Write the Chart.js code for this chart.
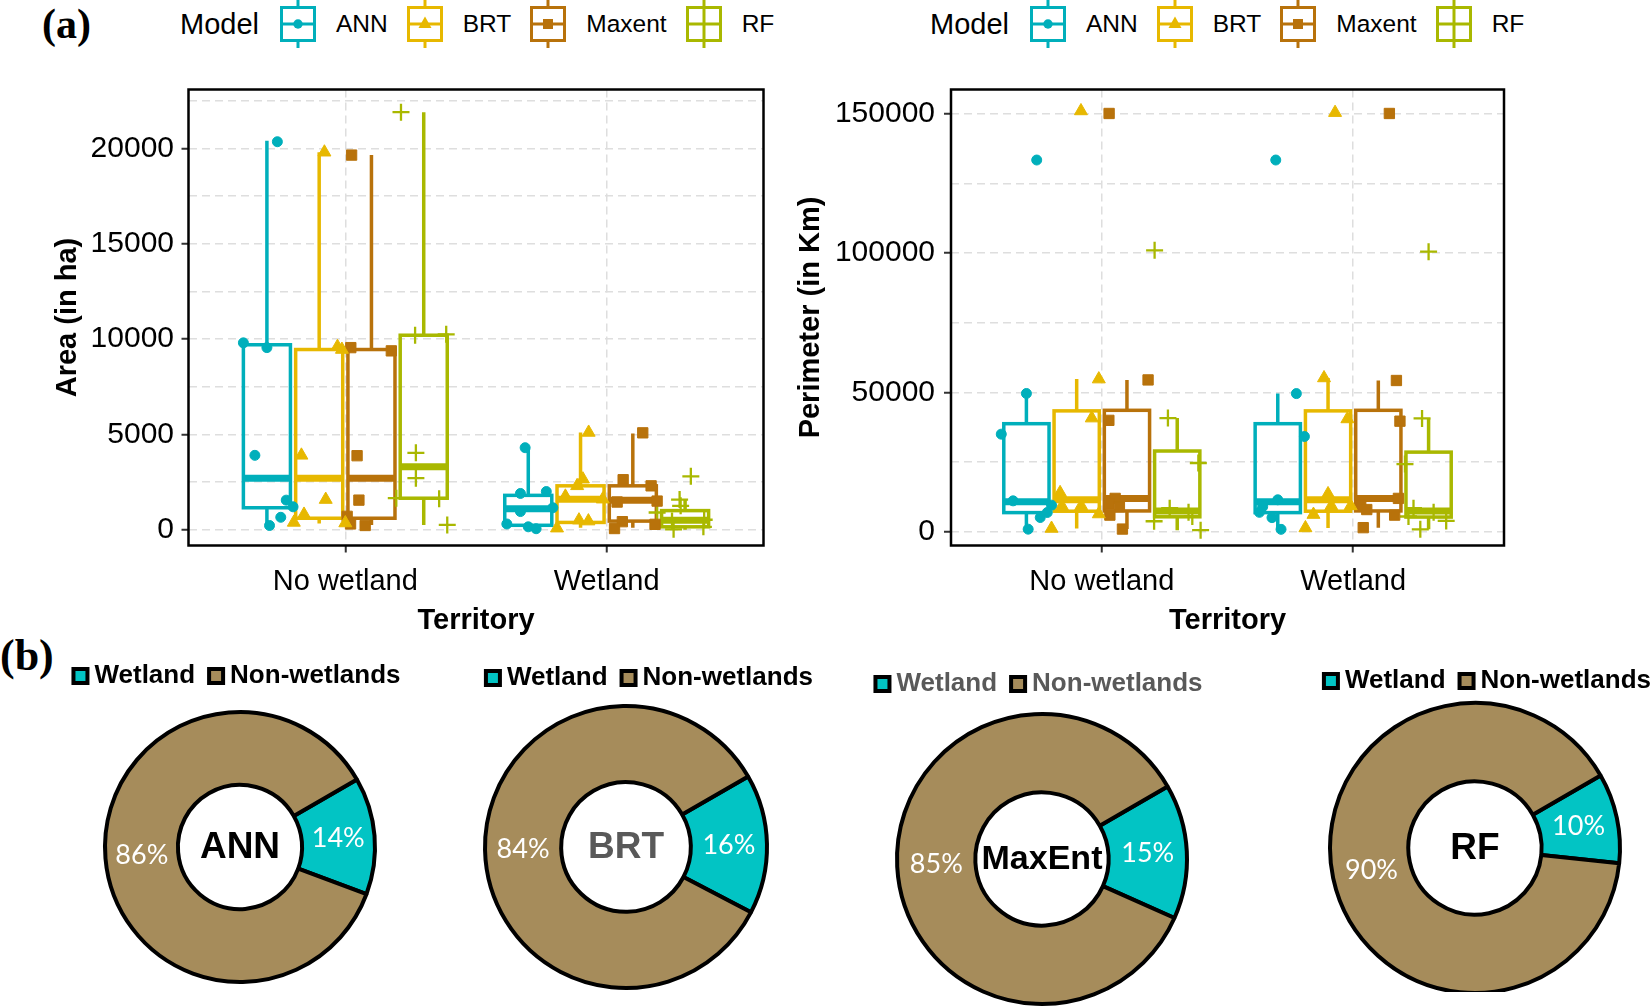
<!DOCTYPE html>
<html>
<head>
<meta charset="utf-8">
<script src="https://cdn.jsdelivr.net/npm/chart.js@4.4.1/dist/chart.umd.min.js"></script>
<style>
  body { margin: 0; width: 1651px; height: 1007px; overflow: hidden; background: #fff; position: relative;
         font-family: 'Liberation Sans', Arial, sans-serif; }
  canvas.chart { position: absolute; }
  .tag { position: absolute; font-family: 'Liberation Serif', 'Times New Roman', serif; font-weight: bold; line-height: 1; }
  .modelLegend { position: absolute; top: 0; height: 48px; display: flex; align-items: center; white-space: nowrap; }
  .modelLegend .legendTitle { font-size: 29px; margin-right: 20px; }
  .modelLegend .legendItem { font-size: 24.5px; margin: 0 18px 0 19px; }
</style>
</head>
<body>
<div class="tag" style="left:42px; top:3px; font-size:42px;">(a)</div>
<div class="tag" style="left:0px; top:634px; font-size:44px;">(b)</div>

<canvas id="areaChart" class="chart" width="780" height="600" style="left:0px; top:60px;"></canvas>
<canvas id="perimeterChart" class="chart" width="760" height="600" style="left:780px; top:60px;"></canvas>
<canvas id="donutANN" class="chart"></canvas>
<canvas id="donutBRT" class="chart"></canvas>
<canvas id="donutMaxEnt" class="chart"></canvas>
<canvas id="donutRF" class="chart"></canvas>

<script>
// ---- data ----
const territories = ['No wetland', 'Wetland'];
const models = ['ANN', 'BRT', 'Maxent', 'RF'];
const modelColors = ['#00afbb', '#e7b800', '#b8720b', '#a9b800'];
const modelShapes = ['circle', 'triangle', 'rect', 'cross'];

// box stats per model: [lower whisker, Q1, median, Q3, upper whisker]
const areaBoxNoWetland = [[220, 1150, 2700, 9700, 20400], [330, 600, 2700, 9450, 19800], [250, 600, 2700, 9450, 19650], [250, 1650, 3300, 10200, 21900]];
const areaBoxWetland = [[30, 230, 1100, 1800, 4300], [100, 380, 1600, 2300, 5100], [100, 450, 1550, 2300, 5050], [0, 150, 500, 1000, 1600]];
const perimBoxNoWetland = [[960, 6900, 10800, 38800, 49600], [1200, 7400, 11500, 43400, 54800], [1000, 7500, 12000, 43600, 54500], [600, 5400, 7500, 29000, 40800]];
const perimBoxWetland = [[900, 6900, 10800, 38800, 49600], [1400, 7400, 11500, 43400, 55200], [1500, 7500, 12000, 43600, 54300], [900, 5300, 7500, 28600, 40700]];

// individual (jittered) observations
const areaPointsNoWetland = [
    [20350, 9800, 9550, 3900, 1550, 1200, 650, 220],
    [19800, 9600, 9450, 3900, 1580, 800, 380, 350],
    [19650, 9550, 9380, 3880, 1550, 700, 300, 220],
    [21900, 10250, 10200, 4030, 2700, 1650, 1620, 250]
];
const areaJitterNoWetland = [
    [0.04, -0.09, 0, -0.046, 0.074, 0.1, 0.053, 0.01],
    [0.02, 0.07, 0.087, -0.068, 0.025, -0.058, -0.097, 0.1],
    [-0.076, -0.079, 0.076, -0.055, -0.048, -0.093, -0.08, -0.024],
    [-0.087, 0.086, -0.033, -0.03, -0.03, -0.105, 0.059, 0.09]
];
const areaPointsWetland = [
    [4300, 2000, 1900, 1150, 950, 300, 150, 50],
    [5100, 2650, 2300, 1750, 1600, 500, 450, 80],
    [5080, 2620, 2300, 1500, 1450, 420, 280, 60],
    [2800, 1580, 1250, 900, 520, 450, 150, 20]
];
const areaJitterWetland = [
    [-0.012, 0.069, -0.03, 0.094, -0.03, -0.082, 0, 0.03],
    [0.031, 0.009, -0.013, -0.058, 0.085, -0.006, 0.03, -0.09],
    [0.038, -0.037, 0.07, 0.093, -0.06, -0.04, 0.085, -0.07],
    [0.022, -0.021, -0.017, -0.107, 0.073, -0.05, 0.07, -0.044]
];
const perimPointsNoWetland = [
    [133400, 49640, 35050, 11120, 9570, 6940, 5140, 960],
    [151000, 54800, 40800, 14000, 9300, 9300, 6400, 1200],
    [150100, 54500, 40000, 12000, 10000, 9000, 6000, 1000],
    [101000, 40800, 24700, 8500, 7000, 5500, 3800, 600]
];
const perimJitterNoWetland = [
    [0.041, 0, -0.1, -0.053, 0.1, 0.083, 0.055, 0.007],
    [0.017, 0.088, 0.06, -0.066, -0.059, 0.018, 0.088, -0.1],
    [-0.071, 0.084, -0.072, -0.047, -0.072, -0.03, -0.068, -0.018],
    [-0.09, -0.037, 0.084, -0.03, 0.045, 0.06, -0.092, 0.093]
];
const perimPointsWetland = [
    [133400, 49600, 34200, 11500, 9000, 7000, 5100, 900],
    [150400, 55200, 40500, 13600, 9300, 9300, 6200, 1400],
    [150100, 54300, 39700, 12000, 9500, 8000, 6000, 1500],
    [100500, 40700, 24300, 8500, 7000, 5500, 3900, 900]
];
const perimJitterWetland = [
    [-0.008, 0.074, 0.106, 0, -0.06, -0.073, -0.023, 0.013],
    [0.028, -0.016, 0.077, 0, 0.013, 0.09, -0.058, -0.09],
    [0.044, 0.072, 0.086, 0.08, -0.07, -0.046, 0.065, -0.06],
    [0, -0.026, -0.094, -0.06, 0.02, -0.08, 0.07, -0.033]
];

const areaTicks = [0, 2500, 5000, 7500, 10000, 12500, 15000, 17500, 20000, 22500];
const areaMajorTicks = [0, 5000, 10000, 15000, 20000];
const perimTicks = [0, 25000, 50000, 75000, 100000, 125000, 150000];
const perimMajorTicks = [0, 50000, 100000, 150000];

const donutModels = ['ANN', 'BRT', 'MaxEnt', 'RF'];
const donutClasses = ['Wetland', 'Non-wetlands'];
const wetlandShare = [14, 16, 15, 10];
const nonWetlandShare = [86, 84, 85, 90];
const donutColors = ['#02c4c4', '#a68c5b'];

// ---- chart helpers ----
Chart.defaults.font.family = "'Liberation Sans', Arial, sans-serif";
Chart.defaults.color = '#000';

const dodgeWidth = 0.2;
const boxHalfWidth = 0.09;
const pointRadii = [5, 7.5, 7.3, 8.5];

function modelOffset(m) { return (m - 1.5) * dodgeWidth; }

function BoxPlotPlugin(boxesByTerritory) {
    return {
        id: 'boxPlot',
        beforeDatasetsDraw(chart) {
            const {ctx, scales: {x, y}} = chart;
            ctx.save();
            boxesByTerritory.forEach((boxes, ti) => {
                boxes.forEach((b, m) => {
                    const cx = ti + 1 + modelOffset(m);
                    const left = x.getPixelForValue(cx - boxHalfWidth);
                    const right = x.getPixelForValue(cx + boxHalfWidth);
                    const mid = x.getPixelForValue(cx);
                    const [lo, q1, med, q3, hi] = b.map(v => y.getPixelForValue(v));
                    ctx.strokeStyle = modelColors[m];
                    ctx.lineWidth = 3.5;
                    ctx.beginPath();
                    ctx.moveTo(mid, q3); ctx.lineTo(mid, hi);
                    ctx.moveTo(mid, q1); ctx.lineTo(mid, lo);
                    ctx.stroke();
                    ctx.strokeRect(left, q3, right - left, q1 - q3);
                    ctx.lineWidth = 7;
                    ctx.beginPath();
                    ctx.moveTo(left, med); ctx.lineTo(right, med);
                    ctx.stroke();
                });
            });
            ctx.restore();
        }
    };
}

const panelBorder = {
    id: 'panelBorder',
    afterDatasetsDraw(chart) {
        const {ctx, chartArea: a} = chart;
        ctx.save();
        ctx.strokeStyle = '#000';
        ctx.lineWidth = 2.5;
        ctx.strokeRect(a.left, a.top, a.right - a.left, a.bottom - a.top);
        ctx.restore();
    }
};

function BuildPointDatasets(points, jitters) {
    return models.map((model, m) => ({
        label: model,
        data: territories.flatMap((t, ti) => points[ti][m].map((v, k) => ({
            x: ti + 1 + modelOffset(m) + jitters[ti][m][k],
            y: v
        }))),
        pointStyle: modelShapes[m],
        pointRadius: pointRadii[m],
        pointBorderWidth: modelShapes[m] === 'cross' ? 2.3 : 1,
        backgroundColor: modelColors[m],
        borderColor: modelColors[m]
    }));
}

function CreateBoxChart(canvasId, cfg) {
    const gridColor = '#dedede';
    return new Chart(document.getElementById(canvasId), {
        type: 'scatter',
        data: {datasets: BuildPointDatasets(cfg.points, cfg.jitters)},
        options: {
            responsive: false,
            animation: false,
            layout: {padding: {top: 29.5, right: cfg.padRight, bottom: 0, left: 0}},
            scales: {
                x: {
                    type: 'linear',
                    min: 0.4,
                    max: 2.6,
                    afterBuildTicks: scale => { scale.ticks = territories.map((t, i) => ({value: i + 1})); },
                    afterFit: scale => { scale.height = 114.5; },
                    ticks: {
                        autoSkip: false,
                        maxRotation: 0,
                        padding: 11.6,
                        font: {size: 29},
                        callback: (value, index) => territories[index]
                    },
                    grid: {color: gridColor, lineWidth: 1.5, tickLength: 7, tickWidth: 2, tickColor: '#333'},
                    border: {display: false, dash: [8, 5]},
                    title: {
                        display: true,
                        text: 'Territory',
                        font: {size: 29, weight: 'bold'},
                        padding: {top: 0, bottom: 21.6}
                    }
                },
                y: {
                    min: cfg.yMin,
                    max: cfg.yMax,
                    afterBuildTicks: scale => { scale.ticks = cfg.ticks.map(v => ({value: v})); },
                    afterFit: scale => { scale.width = cfg.axisWidth; },
                    ticks: {
                        autoSkip: false,
                        padding: cfg.tickPad,
                        font: {size: 30},
                        callback: value => cfg.majorTicks.includes(value) ? String(value) : ''
                    },
                    grid: {
                        color: gridColor,
                        lineWidth: 1.5,
                        tickLength: 7,
                        tickWidth: 2,
                        tickColor: ctx => ctx.tick && cfg.majorTicks.includes(ctx.tick.value) ? '#333' : 'rgba(0,0,0,0)'
                    },
                    border: {display: false, dash: [8, 5]},
                    title: {
                        display: true,
                        text: cfg.yTitle,
                        font: {size: 29, weight: 'bold'},
                        padding: {top: cfg.titlePad, bottom: 0}
                    }
                }
            },
            plugins: {
                legend: {display: false},
                tooltip: {enabled: false}
            }
        },
        plugins: [BoxPlotPlugin(cfg.boxes), panelBorder]
    });
}

function DonutTextPlugin(name, look) {
    return {
        id: 'donutText',
        afterDatasetsDraw(chart) {
            const {ctx, chartArea: a} = chart;
            const meta = chart.getDatasetMeta(0);
            const values = chart.data.datasets[0].data;
            ctx.save();
            ctx.textAlign = 'center';
            ctx.textBaseline = 'middle';
            ctx.fillStyle = '#fff';
            ctx.font = "27px Lato, 'Open Sans', sans-serif";
            meta.data.forEach((arc, i) => {
                const p = arc.tooltipPosition();
                ctx.fillText(values[i] + '%', p.x, p.y);
            });
            ctx.fillStyle = look.nameColor;
            ctx.font = "bold " + look.nameSize + "px 'Liberation Sans', Arial, sans-serif";
            ctx.fillText(name, (a.left + a.right) / 2, (a.top + a.bottom) / 2 + 1);
            ctx.restore();
        }
    };
}

function CreateDonutChart(canvasId, i, look) {
    const canvas = document.getElementById(canvasId);
    // legend: 26px items with 20px padding -> 56px tall, item centre 33px below its top
    const legendHeight = 56;
    const top = look.legendY - 33;
    // centred legends use a fixed-width canvas; right-aligned ones end 20px (trailing padding) inside it
    const width = look.legendAlign === 'end' ? 2 * (look.legendRight + 20 - look.cx) : 420;
    canvas.width = width;
    canvas.height = Math.round(2 * (look.cy - (top + legendHeight)) + legendHeight);
    canvas.style.left = (look.cx - width / 2) + 'px';
    canvas.style.top = top + 'px';
    return new Chart(canvas, {
        type: 'doughnut',
        data: {
            labels: donutClasses,
            datasets: [{
                data: [wetlandShare[i], nonWetlandShare[i]],
                backgroundColor: donutColors,
                borderColor: '#000',
                borderWidth: 4,
                rotation: 60,
                cutout: '46%',
                radius: look.r - 2
            }]
        },
        options: {
            responsive: false,
            animation: false,
            layout: {padding: 0},
            plugins: {
                legend: {
                    position: 'top',
                    align: look.legendAlign,
                    labels: {
                        usePointStyle: true,
                        pointStyle: 'rect',
                        boxWidth: 2,
                        boxHeight: 14,
                        padding: 20,
                        color: look.legendColor,
                        font: {size: 26, weight: 'bold'}
                    }
                },
                tooltip: {enabled: false}
            }
        },
        plugins: [DonutTextPlugin(donutModels[i], look)]
    });
}

function DrawKey(canvas, m) {
    const c = canvas.getContext('2d');
    const col = modelColors[m];
    c.lineWidth = 3;
    c.strokeStyle = col;
    c.beginPath(); c.moveTo(19, 0); c.lineTo(19, 48); c.stroke();
    c.fillStyle = '#fff';
    c.fillRect(2.5, 7.5, 33, 33);
    c.strokeRect(2.5, 7.5, 33, 33);
    c.beginPath(); c.moveTo(2.5, 24); c.lineTo(35.5, 24); c.stroke();
    c.fillStyle = col;
    if (modelShapes[m] === 'circle') {
        c.beginPath(); c.arc(19, 24, 4.7, 0, Math.PI * 2); c.fill();
    } else if (modelShapes[m] === 'triangle') {
        c.beginPath(); c.moveTo(19, 16.5); c.lineTo(25.5, 28); c.lineTo(12.5, 28); c.closePath(); c.fill();
    } else if (modelShapes[m] === 'rect') {
        c.fillRect(14, 19, 10, 10);
    } else {
        c.beginPath(); c.moveTo(19, 7.5); c.lineTo(19, 40.5); c.stroke();
    }
}

function BuildModelLegend(left) {
    const box = document.createElement('div');
    box.className = 'modelLegend';
    box.style.left = left + 'px';
    const title = document.createElement('span');
    title.className = 'legendTitle';
    title.textContent = 'Model';
    box.appendChild(title);
    models.forEach((model, m) => {
        const key = document.createElement('canvas');
        key.width = 38; key.height = 48;
        DrawKey(key, m);
        box.appendChild(key);
        const label = document.createElement('span');
        label.className = 'legendItem';
        label.textContent = model;
        box.appendChild(label);
    });
    document.body.appendChild(box);
}

// ---- build the figure ----
BuildModelLegend(180);
BuildModelLegend(930);

CreateBoxChart('areaChart', {
    boxes: [areaBoxNoWetland, areaBoxWetland],
    points: [areaPointsNoWetland, areaPointsWetland],
    jitters: [areaJitterNoWetland, areaJitterWetland],
    ticks: areaTicks,
    majorTicks: areaMajorTicks,
    yMin: -830,
    yMax: 23090,
    yTitle: 'Area (in ha)',
    axisWidth: 188.5,
    titlePad: 50.6,
    tickPad: 7.5,
    padRight: 16.5
});

CreateBoxChart('perimeterChart', {
    boxes: [perimBoxNoWetland, perimBoxWetland],
    points: [perimPointsNoWetland, perimPointsWetland],
    jitters: [perimJitterNoWetland, perimJitterWetland],
    ticks: perimTicks,
    majorTicks: perimMajorTicks,
    yMin: -4900,
    yMax: 158700,
    yTitle: 'Perimeter (in Km)',
    axisWidth: 171,
    titlePad: 13.6,
    tickPad: 9,
    padRight: 36
});

CreateDonutChart('donutANN', 0, {cx: 240, cy: 847, r: 137, legendY: 676, legendAlign: 'center', nameColor: '#000', nameSize: 37, legendColor: '#000'});
CreateDonutChart('donutBRT', 1, {cx: 626, cy: 847, r: 143, legendY: 678, legendAlign: 'end', legendRight: 813, nameColor: '#595959', nameSize: 37, legendColor: '#000'});
CreateDonutChart('donutMaxEnt', 2, {cx: 1042, cy: 859, r: 147, legendY: 684, legendAlign: 'center', nameColor: '#000', nameSize: 34, legendColor: '#595959'});
CreateDonutChart('donutRF', 3, {cx: 1475, cy: 848, r: 147, legendY: 681, legendAlign: 'end', legendRight: 1651, nameColor: '#000', nameSize: 37, legendColor: '#000'});
</script>
</body>
</html>
